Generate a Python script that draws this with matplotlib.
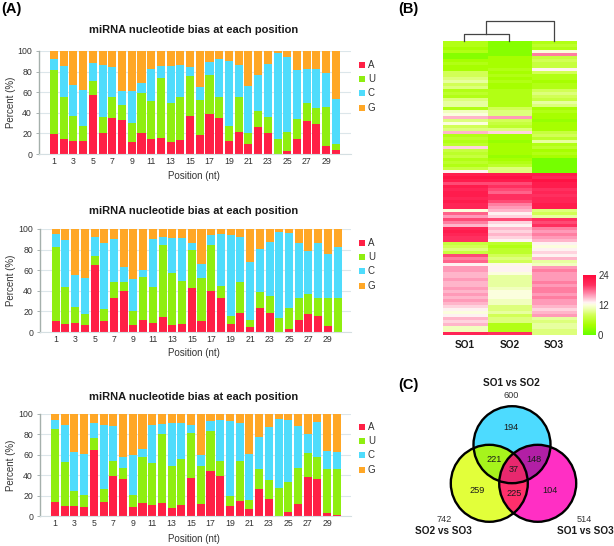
import numpy as np
import matplotlib
matplotlib.use("Agg")
import matplotlib.pyplot as plt
from matplotlib.colors import LinearSegmentedColormap
from matplotlib.patches import Circle

plt.rcParams["font.family"] = ["Liberation Sans", "DejaVu Sans"]

W, H = 614, 546

# ----------------------------
# Data
# ----------------------------

positions = list(range(1, 31))
pos_ticks = list(range(1, 30, 2))
pct_ticks = [0, 20, 40, 60, 80, 100]

a1 = [19,15,13,13,57,20,35,33,12,20,15,16,12,14,37,18,39,35,13,21,10,26,20,0,3,15,32,29,8,4]
u1 = [63,40,24,14,14,16,20,15,18,39,36,58,38,41,39,34,38,20,14,34,10,16,16,15,18,19,18,16,38,6]
c1 = [10,30,30,35,17,50,29,13,31,10,32,11,35,31,8,13,12,37,63,31,46,35,51,83,73,48,33,38,33,43]
g1 = [8,15,33,38,12,14,16,39,39,31,17,15,15,14,16,35,11,8,10,14,34,23,13,2,6,18,17,17,21,47]

a2 = [11,8,9,7,65,11,33,40,7,12,9,15,7,8,43,11,40,33,8,18,5,23,18,0,3,12,17,16,6,0]
u2 = [72,36,15,10,9,11,16,9,13,41,35,69,50,42,37,41,44,12,8,31,7,16,17,14,20,21,20,17,27,33]
c2 = [12,45,31,35,18,64,41,14,31,7,46,8,34,41,6,14,10,50,78,43,56,42,52,83,73,53,42,53,43,50]
g2 = [5,11,45,48,8,14,10,37,49,40,10,8,9,9,14,34,6,5,6,8,32,19,13,3,4,14,21,14,24,17]

a3 = [14,10,10,9,65,14,39,36,9,13,11,13,8,11,37,12,44,39,10,15,7,26,17,0,4,12,38,36,3,1]
u3 = [71,43,15,12,11,12,15,11,12,45,41,67,41,45,44,37,39,15,10,39,9,20,18,27,29,35,24,22,43,45]
c3 = [9,36,38,40,15,63,34,11,39,8,37,10,42,35,8,11,10,40,73,37,45,31,52,68,61,41,18,34,18,17]
g3 = [6,11,37,39,9,11,12,42,40,34,11,10,9,9,11,40,7,6,7,9,39,23,13,5,6,12,20,8,36,37]

so1 = [5,5,4,5,2,2,4,5,4,4,8,8,9,10,8,9,5,6,5,9,10,10,5,11,12,15,9,12,8,9,15,5,6,5,6,14,7,6,7,5,6,5,7,13,
       22,23,22,19,22,21,22,22,21,22,21,21,12,18,16,19,17,15,21,22,21,20,20,7,8,9,7,19,17,18,13,
       16,16,15,15,16,15,15,16,15,16,15,16,15,14,13,12,13,15,14,15,11,11,21]
so2 = [2,2,2,2,2,4,4,4,4,5,4,5,4,5,4,4,5,5,5,5,5,5,8,9,9,16,8,7,6,9,14,4,4,3,4,4,4,4,3,4,5,6,9,9,
       22,23,22,19,20,19,18,20,20,19,17,16,15,13,14,19,14,13,15,14,15,14,13,6,5,6,6,8,9,8,
       12.5,13,13,12,10,10,10,10,11,12,12,12,11,11,9,9,10,8,9,9,5,5,5,20]
so3 = [5,6,5,12,17,7,8,7,7,13,8,5,5,4,5,5,8,9,8,7,10,9,4,5,4,4,3,4,4,4,7,8,6,10,5,6,4,5,4,1,1,1,1,1,
       22,21,23,22,22,20,21,20,21,21,22,22,9,8,10,20,19,20,17,16,17,16,15,13,12,13,14,13,15,10,11,
       16,17,16,16,16,17,16,17,17,16,17,16,16,15,14,15,16,10,9,10,10,9,9]
cell_labels = ["SO1", "SO2", "SO3"]

venn_counts = [194, 221, 148, 37, 259, 225, 104]
set_totals = [600, 742, 514]
set_names = ["SO1 vs SO2", "SO2 vs SO3", "SO1 vs SO3"]

red, green, cyan, orange = "#ff2045", "#8fee10", "#4fdcfc", "#ffa726"

# ----------------------------
# Figure, pixel helpers
# ----------------------------

fig = plt.figure(figsize=(W / 100, H / 100), dpi=100)


def px_axes(left, top, right, bottom):
    return fig.add_axes([left / W, 1 - bottom / H, (right - left) / W, (bottom - top) / H])


overlay = fig.add_axes([0, 0, 1, 1], zorder=5)
overlay.set_xlim(0, W)
overlay.set_ylim(H, 0)
overlay.axis("off")

# ----------------------------
# Stacked bars
# ----------------------------


def bias_chart(left, top, bottom, first_bar, values, title_y, xlabel_y, legend_y):
    step = 9.72
    ax = px_axes(left, top, 351, bottom)
    ax.set_xlim((left - first_bar) / step + 1, (351 - first_bar) / step + 1)
    ax.set_ylim(0, 100)
    ax.set_axisbelow(True)
    ax.grid(axis="y", color="#dce6ea", lw=0.8)
    bottoms = np.zeros(30)
    for vals, col, name in zip(values, [red, green, cyan, orange], "AUCG"):
        ax.bar(positions, vals, bottom=bottoms, width=0.83, color=col, label=name, lw=0)
        bottoms += np.array(vals)
    ax.set_xticks(pos_ticks)
    ax.set_yticks(pct_ticks)
    ax.tick_params(axis="both", labelsize=6.3, length=2, width=0.6, color="#9aa5a5",
                   labelcolor="#333333", pad=3)
    ax.tick_params(axis="x", length=0, pad=2)
    for s in ["top", "right"]:
        ax.spines[s].set_visible(False)
    ax.spines["left"].set_color("#a5b0ac")
    ax.spines["left"].set_linewidth(1)
    ax.spines["bottom"].set_color("#d5dfe2")
    ax.spines["bottom"].set_linewidth(0.8)

    overlay.text(194, title_y, "miRNA nucleotide bias at each position", ha="center", va="center",
                 fontsize=8, fontweight="bold", color="#1a1a1a")
    overlay.text(194, xlabel_y, "Position (nt)", ha="center", va="center", fontsize=7, color="#333333")
    overlay.text(11, (top + bottom) / 2, "Percent (%)", ha="center", va="center", rotation=90,
                 fontsize=7, color="#333333")
    for i, (col, name) in enumerate(zip([red, green, cyan, orange], "AUCG")):
        overlay.plot([362], [legend_y + i * 14.2], "s", ms=3.8, color=col, mew=0)
        overlay.text(368, legend_y + i * 14.2, name, ha="left", va="center", fontsize=7, color="#333333")


bias_chart(39, 51, 154, 54, [a1, u1, c1, g1], 30, 176, 65)
bias_chart(40, 229, 332, 55.7, [a2, u2, c2, g2], 211, 353, 243)
bias_chart(40, 414, 516, 55, [a3, u3, c3, g3], 397, 539, 427)

# ----------------------------
# Heatmap
# ----------------------------

cmap = LinearSegmentedColormap.from_list(
    "gwr",
    [(0, "#66ff00"), (4 / 24, "#a8ff00"), (8 / 24, "#d2ff55"), (10 / 24, "#e8ffa0"), (12 / 24, "#fbffdc"),
     (13 / 24, "#fff2f2"), (16 / 24, "#ff9ab8"), (20 / 24, "#ff3060"), (1, "#ff0a3c")],
)
hm = px_axes(442.5, 41, 576, 335)
cells = np.array([so1, so2, so3]).T
im = hm.imshow(cells, aspect="auto", cmap=cmap, vmin=0, vmax=24, interpolation="nearest")
hm.set_xticks([])
hm.set_yticks([])
for s in hm.spines.values():
    s.set_visible(False)

for i, name in enumerate(cell_labels):
    overlay.text(465 + i * 44.5, 344.5, name, ha="center", va="center", fontsize=7.2, fontweight="bold",
                 color="#1a1a1a")

cax = px_axes(582.7, 275, 596, 335)
cb = fig.colorbar(im, cax=cax, ticks=[0, 12, 24])
cb.outline.set_visible(False)
cb.ax.tick_params(length=0, labelsize=6.9, pad=1.5, labelcolor="#333333")

# dendrogram
overlay.plot([464, 464, 508.7, 508.7], [41, 33.7, 33.7, 41], color="#444444", lw=0.9)
overlay.plot([486.3, 486.3, 553.7, 553.7], [33.7, 20.7, 20.7, 41], color="#444444", lw=0.9)

# ----------------------------
# Venn
# ----------------------------

top_c = ((512, 444.7), 38.5)
left_c = ((489.3, 483.3), 38.5)
right_c = ((537.7, 483.3), 38.5)


def disc(c, color, clip=None, z=1):
    p = Circle(c[0], c[1], fc=color, ec="none", zorder=z)
    overlay.add_patch(p)
    if clip:
        p.set_clip_path(Circle(clip[0], clip[1], transform=overlay.transData))


disc(top_c, "#4ddbff")
disc(left_c, "#e2ff3a")
disc(right_c, "#ff2fc4")
disc(top_c, "#a6f41c", left_c, z=2)
disc(top_c, "#b21fa5", right_c, z=2)
disc(left_c, "#ff2f6b", right_c, z=3)

# centre region, polygon from the sampled outlines
t = np.linspace(0, 2 * np.pi, 721)
tri = []
for c, o1, o2 in [(top_c, left_c, right_c), (left_c, top_c, right_c), (right_c, top_c, left_c)]:
    p = np.column_stack([c[0][0] + c[1] * np.cos(t), c[0][1] + c[1] * np.sin(t)])
    keep = (np.hypot(p[:, 0] - o1[0][0], p[:, 1] - o1[0][1]) <= o1[1]) & \
           (np.hypot(p[:, 0] - o2[0][0], p[:, 1] - o2[0][1]) <= o2[1])
    tri.append(p[keep])
tri = np.vstack(tri)
ctr = tri.mean(axis=0)
tri = tri[np.argsort(np.arctan2(tri[:, 1] - ctr[1], tri[:, 0] - ctr[0]))]
overlay.fill(tri[:, 0], tri[:, 1], color="#e8286e", zorder=4, lw=0)

for c in [top_c, left_c, right_c]:
    overlay.add_patch(Circle(c[0], c[1], fc="none", ec="black", lw=1.7, zorder=6))

venn_xy = [(511, 427.3), (493.7, 459.3), (534, 459.3), (514, 470), (477, 490.3), (514.3, 493.3), (550.3, 490.3)]
for (x, y), n in zip(venn_xy, venn_counts):
    overlay.text(x, y, str(n), ha="center", va="center", fontsize=6.6, color="#1a1a1a", zorder=7)

overlay.text(511, 382.7, set_names[0], ha="center", va="center", fontsize=7.2, fontweight="bold", color="#1a1a1a")
overlay.text(511, 395.5, str(set_totals[0]), ha="center", va="center", fontsize=6.6, color="#333333")
overlay.text(443.7, 519, str(set_totals[1]), ha="center", va="center", fontsize=6.6, color="#333333")
overlay.text(443, 531.5, set_names[1], ha="center", va="center", fontsize=7.2, fontweight="bold", color="#1a1a1a")
overlay.text(584.5, 519, str(set_totals[2]), ha="center", va="center", fontsize=6.6, color="#333333")
overlay.text(585.7, 531.5, set_names[2], ha="center", va="center", fontsize=7.2, fontweight="bold", color="#1a1a1a")

# ----------------------------
# Panel labels
# ----------------------------

overlay.text(1, 9, "(A)", ha="left", va="center", fontsize=10.5, fontweight="bold")
overlay.text(398, 9, "(B)", ha="left", va="center", fontsize=10.5, fontweight="bold")
overlay.text(398, 385, "(C)", ha="left", va="center", fontsize=10.5, fontweight="bold")

fig.savefig("out.png", dpi=100)
